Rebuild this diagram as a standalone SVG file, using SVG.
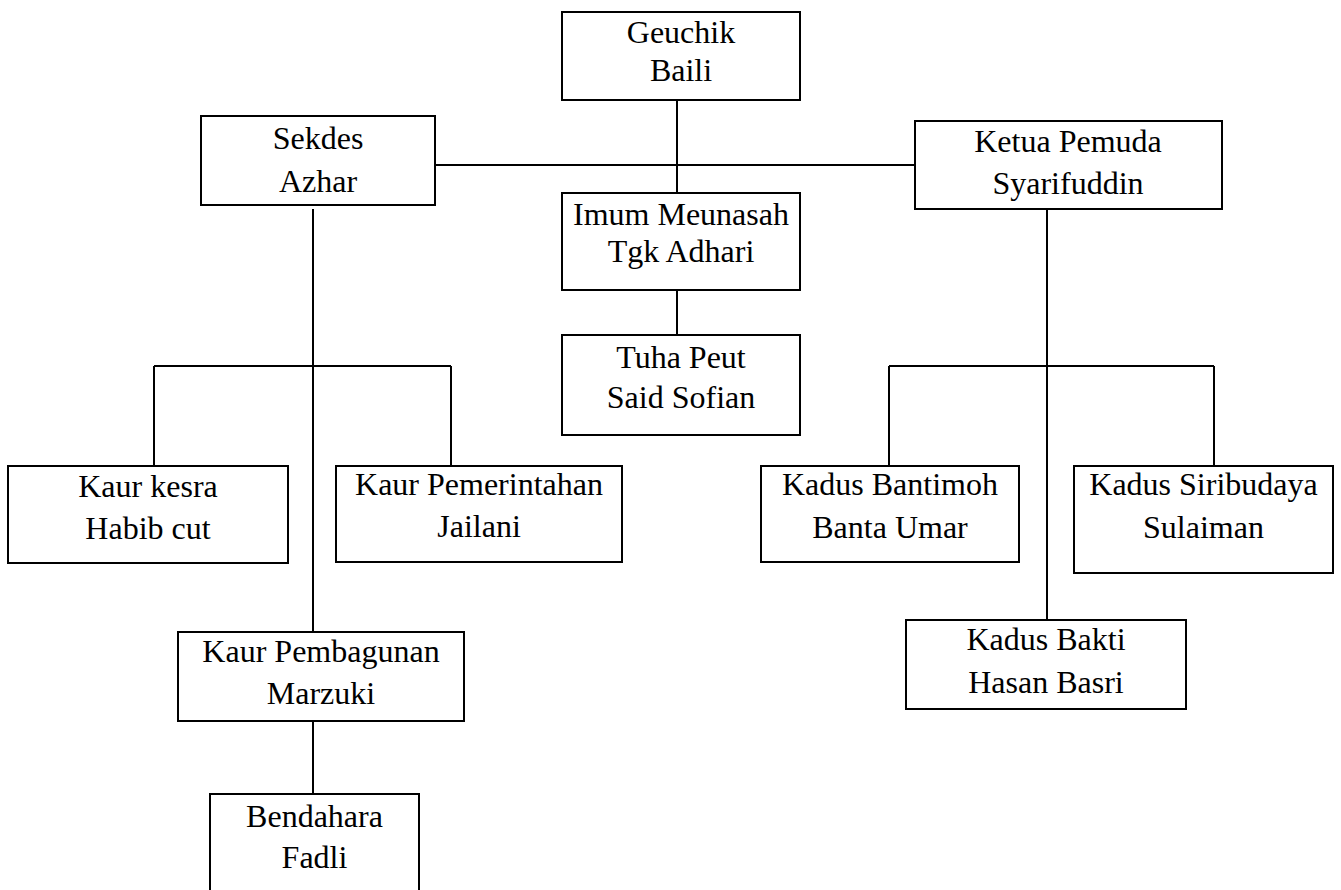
<svg xmlns="http://www.w3.org/2000/svg" width="1341" height="890" viewBox="0 0 1341 890">
<style>
.box{fill:#fff;stroke:#000;stroke-width:2}
.lbl{font-family:"Liberation Serif","Times New Roman",serif;font-size:32px;fill:#000;text-anchor:middle}
.conn line{stroke:#000;stroke-width:2}
</style>
<rect width="1341" height="890" fill="#fff"/>
<g class="conn" id="connectors">
<line x1="677" y1="100" x2="677" y2="193"/>
<line x1="435" y1="165" x2="915" y2="165"/>
<line x1="677" y1="290" x2="677" y2="335"/>
<line x1="313" y1="209" x2="313" y2="632"/>
<line x1="154" y1="366" x2="451" y2="366"/>
<line x1="154" y1="366" x2="154" y2="466"/>
<line x1="451" y1="366" x2="451" y2="466"/>
<line x1="313" y1="721" x2="313" y2="794"/>
<line x1="1047" y1="209" x2="1047" y2="620"/>
<line x1="889" y1="366" x2="1214" y2="366"/>
<line x1="889" y1="366" x2="889" y2="466"/>
<line x1="1214" y1="366" x2="1214" y2="466"/>
</g>
<g id="geuchik"><rect class="box" x="562" y="12" width="238" height="88"/><text class="lbl" x="681" y="43">Geuchik</text><text class="lbl" x="681" y="81">Baili</text></g>
<g id="sekdes"><rect class="box" x="201" y="116" width="234" height="89"/><text class="lbl" x="318" y="149">Sekdes</text><text class="lbl" x="318" y="192">Azhar</text></g>
<g id="ketua-pemuda"><rect class="box" x="915" y="121" width="307" height="88"/><text class="lbl" x="1068" y="152">Ketua Pemuda</text><text class="lbl" x="1068" y="194">Syarifuddin</text></g>
<g id="imum"><rect class="box" x="562" y="193" width="238" height="97"/><text class="lbl" x="681" y="225">Imum Meunasah</text><text class="lbl" x="681" y="262">Tgk Adhari</text></g>
<g id="tuha-peut"><rect class="box" x="562" y="335" width="238" height="100"/><text class="lbl" x="681" y="368">Tuha Peut</text><text class="lbl" x="681" y="408">Said Sofian</text></g>
<g id="kaur-kesra"><rect class="box" x="8" y="466" width="280" height="97"/><text class="lbl" x="148" y="497">Kaur kesra</text><text class="lbl" x="148" y="539">Habib cut</text></g>
<g id="kaur-pemerintahan"><rect class="box" x="336" y="466" width="286" height="96"/><text class="lbl" x="479" y="495">Kaur Pemerintahan</text><text class="lbl" x="479" y="537">Jailani</text></g>
<g id="kaur-pembagunan"><rect class="box" x="178" y="632" width="286" height="89"/><text class="lbl" x="321" y="662">Kaur Pembagunan</text><text class="lbl" x="321" y="704">Marzuki</text></g>
<g id="bendahara"><rect class="box" x="210" y="794" width="209" height="110"/><text class="lbl" x="314.5" y="827">Bendahara</text><text class="lbl" x="314.5" y="868">Fadli</text></g>
<g id="kadus-bantimoh"><rect class="box" x="761" y="466" width="258" height="96"/><text class="lbl" x="890" y="495">Kadus Bantimoh</text><text class="lbl" x="890" y="538">Banta Umar</text></g>
<g id="kadus-siribudaya"><rect class="box" x="1074" y="466" width="259" height="107"/><text class="lbl" x="1203.5" y="495">Kadus Siribudaya</text><text class="lbl" x="1203.5" y="538">Sulaiman</text></g>
<g id="kadus-bakti"><rect class="box" x="906" y="620" width="280" height="89"/><text class="lbl" x="1046" y="650">Kadus Bakti</text><text class="lbl" x="1046" y="693">Hasan Basri</text></g>
</svg>
